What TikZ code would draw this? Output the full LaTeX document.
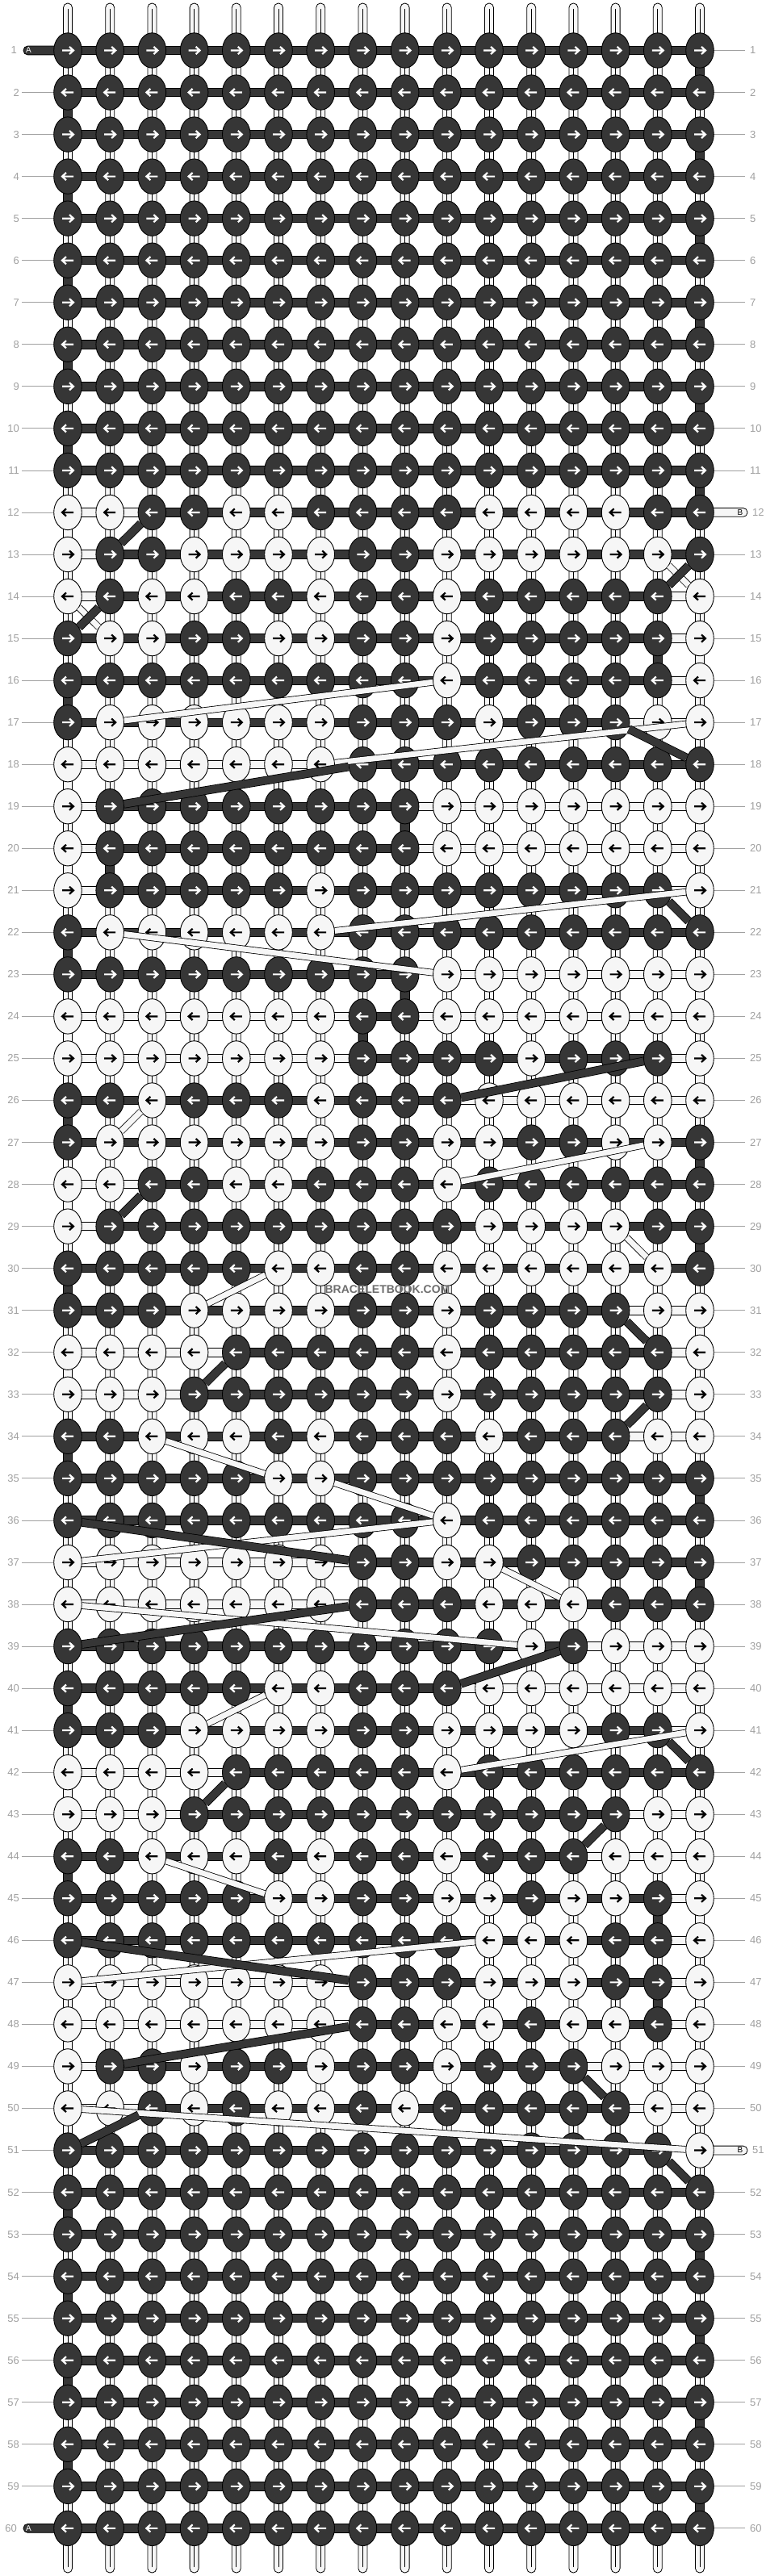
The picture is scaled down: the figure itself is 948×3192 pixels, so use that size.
\documentclass[tikz,border=0pt]{standalone}
\usepackage{fontspec}
\setmainfont{Liberation Sans}
\usetikzlibrary{shapes.geometric}
\definecolor{dk}{HTML}{363636}
\definecolor{lt}{HTML}{F6F6F6}
\definecolor{lbl}{HTML}{A0A0A0}
\definecolor{wm}{HTML}{6E6E6E}
\tikzset{
  knotD/.style={ellipse, draw=black, line width=0.9pt, fill=dk, minimum width=34.6pt, minimum height=43.4pt, inner sep=0pt},
  knotL/.style={knotD, fill=lt},
  arrw/.style={line width=2.2pt, line cap=butt, line join=miter},
  warp/.style={draw=black, line width=0.8pt, fill=lt},
  barL/.style={draw=black, line width=0.8pt, fill=lt},
  barD/.style={draw=black, line width=0.8pt, fill=dk},
  diagD/.style={draw=black, line width=0.8pt, double=dk, double distance=9pt},
  diagL/.style={draw=black, line width=0.8pt, double=lt, double distance=7pt},
  lblline/.style={draw=lbl, line width=0.8pt},
  lbltext/.style={text=lbl, font=\fontsize{13}{13}\selectfont, inner sep=0pt},
}
\newcommand{\setxy}[2]{\pgfmathsetmacro{\xx}{84+(#2-1)*52.2}\pgfmathsetmacro{\yy}{62.5+(#1-1)*52.04}}
\newcommand{\knotat}[3]{%
  \setxy{#1}{#2}%
  \ifodd#1 \def\ks{1}\else\def\ks{-1}\fi
  \ifnum#3=1
    \node[knotD] (k-#1-#2) at (\xx,\yy) {};
    \draw[arrw,white] (\xx-7*\ks,\yy) -- (\xx+6.5*\ks,\yy) (\xx+2*\ks,\yy-4.6) -- (\xx+7*\ks,\yy) -- (\xx+2*\ks,\yy+4.6);
  \else
    \node[knotL] (k-#1-#2) at (\xx,\yy) {};
    \draw[arrw,black] (\xx-7*\ks,\yy) -- (\xx+6.5*\ks,\yy) (\xx+2*\ks,\yy-4.6) -- (\xx+7*\ks,\yy) -- (\xx+2*\ks,\yy+4.6);
  \fi
}
\begin{document}
\begin{tikzpicture}[x=1pt,y=-1pt]
\useasboundingbox (0,0) rectangle (948,3192);
\fill[white] (0,0) rectangle (948,3192);
% label lines
\foreach \r in {1,...,60}{
  \setxy{\r}{1}
  \ifnum\r=1 \else\ifnum\r=60 \else \draw[lblline] (27,\yy) -- (80,\yy); \fi\fi
  \ifnum\r=12 \else\ifnum\r=51 \else \draw[lblline] (860,\yy) -- (923,\yy); \fi\fi
}
% warp strings
\foreach \c in {1,...,16}{
  \setxy{1}{\c}
  \draw[warp, rounded corners=5.4pt] (\xx-5.5,4) rectangle (\xx+5.5,3188);
  \draw[line width=0.7pt] (\xx,11) -- (\xx,3181);
}
% light vertical connections
\foreach \r/\c in {12/1,15/16,18/1,19/16,20/1,23/16,24/1,25/16,28/1,31/16,32/1,33/16,39/16,42/1,43/16,45/16,47/16,48/1,49/16}{
  \setxy{\r}{\c}
  \draw[barL] (\xx-5.5,\yy) rectangle (\xx+5.5,\yy+52.04);
}
% light bars
\foreach \r/\a/\b in {12/1/16,13/1/15,14/1/16,15/2/16,16/10/16,17/2/16,18/1/7,19/1/16,20/1/16,21/1/16,22/2/7,23/10/16,24/1/16,25/1/16,26/3/16,27/2/15,28/1/10,29/1/14,30/6/15,31/4/16,32/1/16,33/1/16,34/3/16,35/6/7,37/1/11,38/1/13,39/12/16,40/6/16,41/4/16,42/1/10,43/1/16,44/3/16,45/6/16,46/11/16,47/1/16,48/1/16,49/1/16,50/1/16}{
  \setxy{\r}{\b}\let\xb\xx
  \setxy{\r}{\a}
  \draw[barL] (\xx,\yy-5.2) rectangle (\xb,\yy+5.2);
}
% light stubs (B)
\foreach \r in {12,51}{
  \setxy{\r}{16}
  \draw[barL, rounded corners=5.2pt] (850,\yy-5.4) rectangle (926,\yy+5.4);
  \node[font=\fontsize{10}{10}\selectfont, inner sep=0pt] (b-\r) at (917,\yy) {B};
}
% dark bars
\foreach \r in {1,...,11}{\setxy{\r}{16}\let\xb\xx\setxy{\r}{1}\draw[barD] (\xx,\yy-5.2) rectangle (\xb,\yy+5.2);}
\foreach \r in {52,...,60}{\setxy{\r}{16}\let\xb\xx\setxy{\r}{1}\draw[barD] (\xx,\yy-5.2) rectangle (\xb,\yy+5.2);}
\foreach \r/\a/\b in {12/3/16,13/2/16,14/2/15,15/1/15,16/1/15,17/1/14,18/8/16,19/2/9,20/2/9,21/2/15,22/1/16,23/1/9,24/8/9,25/8/15,26/1/10,27/1/16,28/3/16,29/2/16,30/1/16,31/1/14,32/5/15,33/4/15,34/1/14,35/1/16,36/1/16,37/8/16,38/8/16,39/1/13,40/1/10,41/1/15,42/5/16,43/4/14,44/1/13,45/1/15,46/1/15,47/8/15,48/8/15,49/2/13,50/3/14,51/1/15}{
  \setxy{\r}{\b}\let\xb\xx
  \setxy{\r}{\a}
  \draw[barD] (\xx,\yy-5.2) rectangle (\xb,\yy+5.2);
}
% dark vertical connections
\foreach \r/\c in {1/16,2/1,3/16,4/1,5/16,6/1,7/16,8/1,9/16,10/1,11/16,15/15,16/1,19/9,20/2,22/1,23/9,24/8,26/1,27/16,29/16,30/1,34/1,35/16,37/16,40/1,44/1,45/15,47/15,52/1,53/16,54/1,55/16,56/1,57/16,58/1,59/16}{
  \setxy{\r}{\c}
  \draw[barD] (\xx-5.5,\yy) rectangle (\xx+5.5,\yy+52.04);
}
% dark stubs (A)
\foreach \r in {1,60}{
  \setxy{\r}{1}
  \draw[barD, rounded corners=5.2pt] (29,\yy-5.4) rectangle (95,\yy+5.4);
  \node[font=\fontsize{10}{10}\selectfont, text=white, inner sep=0pt] (a-\r) at (35.5,\yy) {A};
}
% knots
\foreach \r in {1,...,11}{\foreach \c in {1,...,16}{\knotat{\r}{\c}{1}}}
\foreach \r in {52,...,60}{\foreach \c in {1,...,16}{\knotat{\r}{\c}{1}}}
\foreach \r/\pat in {
12/{0,0,1,1,0,0,1,1,1,1,0,0,0,0,1,1},
13/{0,1,1,0,0,0,0,1,1,0,0,0,0,0,0,1},
14/{0,1,0,0,1,1,0,1,1,0,1,1,1,1,1,0},
15/{1,0,0,1,1,0,0,1,1,0,1,1,1,1,1,0},
16/{1,1,1,1,1,1,1,1,1,0,1,1,1,1,1,0},
17/{1,0,0,0,0,0,0,1,1,1,0,1,1,1,0,0},
18/{0,0,0,0,0,0,0,1,1,1,1,1,1,1,1,1},
19/{0,1,1,1,1,1,1,1,1,0,0,0,0,0,0,0},
20/{0,1,1,1,1,1,1,1,1,0,0,0,0,0,0,0},
21/{0,1,1,1,1,1,0,1,1,1,1,1,1,1,1,0},
22/{1,0,0,0,0,0,0,1,1,1,1,1,1,1,1,1},
23/{1,1,1,1,1,1,1,1,1,0,0,0,0,0,0,0},
24/{0,0,0,0,0,0,0,1,1,0,0,0,0,0,0,0},
25/{0,0,0,0,0,0,0,1,1,1,1,0,1,1,1,0},
26/{1,1,0,1,1,1,0,1,1,1,0,0,0,0,0,0},
27/{1,0,0,0,0,0,0,1,1,0,0,1,1,0,0,1},
28/{0,0,1,1,0,0,1,1,1,0,1,1,1,1,1,1},
29/{0,1,1,1,1,1,1,1,1,1,0,0,0,0,1,1},
30/{1,1,1,1,1,0,0,1,1,0,0,0,0,0,0,1},
31/{1,1,1,0,0,0,0,1,1,0,1,1,1,1,0,0},
32/{0,0,0,0,1,1,1,1,1,0,1,1,1,1,1,0},
33/{0,0,0,1,1,1,1,1,1,0,1,1,1,1,1,0},
34/{1,1,0,0,0,1,0,1,1,1,0,1,1,1,0,0},
35/{1,1,1,1,1,0,0,1,1,1,1,1,1,1,1,1},
36/{1,1,1,1,1,1,1,1,1,0,1,1,1,1,1,1},
37/{0,0,0,0,0,0,0,1,1,0,0,1,1,1,1,1},
38/{0,0,0,0,0,0,0,1,1,1,0,0,0,1,1,1},
39/{1,1,1,1,1,1,1,1,1,1,1,0,1,0,0,0},
40/{1,1,1,1,1,0,0,1,1,1,0,0,0,0,0,0},
41/{1,1,1,0,0,0,0,1,1,0,0,0,0,1,1,0},
42/{0,0,0,0,1,1,1,1,1,0,1,1,1,1,1,1},
43/{0,0,0,1,1,1,1,1,1,1,1,1,1,1,0,0},
44/{1,1,0,0,0,1,0,1,1,0,1,1,1,0,0,0},
45/{1,1,1,1,1,0,0,1,1,0,0,1,0,0,1,0},
46/{1,1,1,1,1,1,1,1,1,1,0,0,0,1,1,0},
47/{0,0,0,0,0,0,0,1,1,1,0,0,0,1,1,0},
48/{0,0,0,0,0,0,0,1,1,0,0,1,0,0,1,0},
49/{0,1,1,0,1,1,0,1,1,0,1,1,1,0,0,0},
50/{0,0,1,0,1,0,0,1,0,1,1,1,1,1,0,0},
51/{1,1,1,1,1,1,1,1,1,1,1,1,1,1,1,0}}{
  \foreach \v [count=\c] in \pat {\knotat{\r}{\c}{\v}}
}
% light diagonals
\foreach \r/\a/\b in {13/15/16,14/1/2,16/10/2,17/16/7,21/16/7,22/2/10,26/3/2,27/15/10,29/14/15,30/6/4,34/3/6,35/7/10,36/10/1,37/11/13,38/1/12,40/6/4,41/16/10,44/3/6,46/11/1,50/1/16}{
  \pgfmathtruncatemacro{\rr}{\r+1}
  \draw[diagL] (k-\r-\a) -- (k-\rr-\b);
}
% dark diagonals
\foreach \r/\a/\b in {12/3/2,13/16/15,14/2/1,17/14/16,18/8/2,21/15/16,25/15/10,28/3/2,31/14/15,32/5/4,33/15/14,36/1/8,38/8/1,39/13/10,41/15/16,42/5/4,43/14/13,46/1/8,48/8/2,49/13/14,50/3/1,51/15/16}{
  \pgfmathtruncatemacro{\rr}{\r+1}
  \draw[diagD] (k-\r-\a) -- (k-\rr-\b);
}
% row numbers
\foreach \r in {1,...,60}{
  \setxy{\r}{1}
  \pgfmathsetmacro{\lx}{(\r==1 || \r==60) ? 21 : 24}
  \pgfmathsetmacro{\rx}{(\r==12 || \r==51) ? 932 : 929}
  \node[lbltext, anchor=east] (l-\r) at (\lx,\yy) {\r};
  \node[lbltext, anchor=west] (r-\r) at (\rx,\yy) {\r};
}
% watermark
\node[text=wm, font=\fontsize{14}{14}\selectfont\bfseries, inner sep=0pt] (wm) at (480,1597.5) {BRACELETBOOK.COM};
\end{tikzpicture}
\end{document}
